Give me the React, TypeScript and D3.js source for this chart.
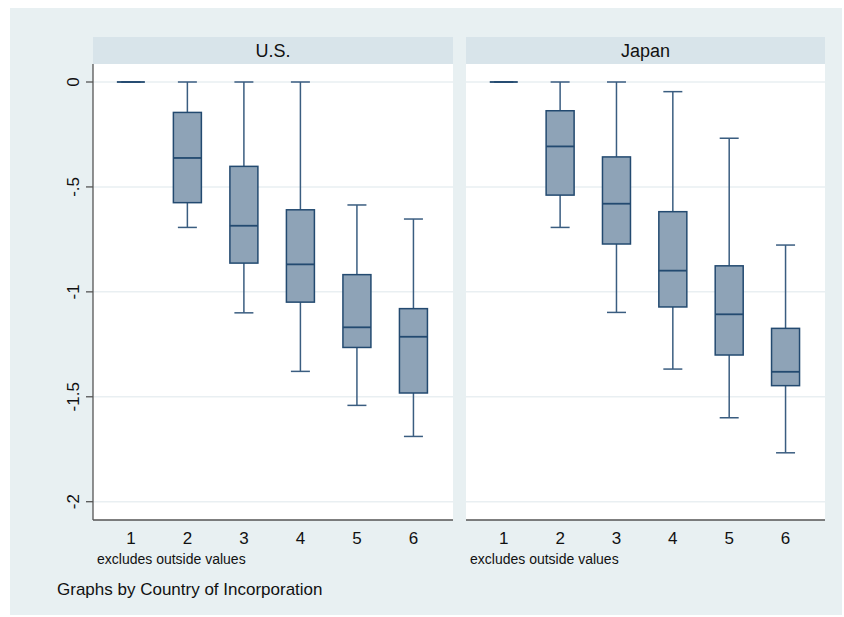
import * as React from "react";
import * as d3 from "d3";

const CATEGORIES = [1, 2, 3, 4, 5, 6];
const Y_TICKS = [0, -0.5, -1, -1.5, -2];
const Y_TICK_LABELS = ["0", "-.5", "-1", "-1.5", "-2"];
const PANEL_NAMES = ["U.S.", "Japan"];

// U.S. box stats per category
const US_UPPER = [0, 0, 0, 0, -0.586, -0.653];
const US_Q3 = [0, -0.145, -0.402, -0.609, -0.918, -1.08];
const US_MEDIAN = [0, -0.362, -0.685, -0.869, -1.169, -1.214];
const US_Q1 = [0, -0.575, -0.863, -1.049, -1.265, -1.482];
const US_LOWER = [0, -0.693, -1.1, -1.379, -1.541, -1.689];

// Japan box stats per category
const JP_UPPER = [0, 0, 0, -0.046, -0.268, -0.777];
const JP_Q3 = [0, -0.137, -0.357, -0.618, -0.876, -1.174];
const JP_MEDIAN = [0, -0.307, -0.58, -0.899, -1.107, -1.381];
const JP_Q1 = [0, -0.539, -0.772, -1.072, -1.301, -1.447];
const JP_LOWER = [0, -0.693, -1.098, -1.368, -1.6, -1.767];

const W = 844;
const H = 617;
const PLOT_TOP = 64;
const PLOT_BOTTOM = 520;
const HEADER_TOP = 37;
const PANEL_X = [
  [93, 453],
  [466, 825],
];

const BG = "#e8f0f2";
const HEADER = "#d8e4ea";
const GRID = "#e9eff2";
const BOX_FILL = "#8ea3b7";
const BOX_STROKE = "#234a70";
const WHISKER = "#3a5d80";
const FONT = "Liberation Sans, Arial, sans-serif";

export default function App() {
  const svgRef = React.useRef<SVGSVGElement>(null);

  React.useEffect(() => {
    const svg = d3.select(svgRef.current).attr("width", W).attr("height", H);
    svg.selectAll("*").remove();

    svg.append("rect").attr("width", W).attr("height", H).attr("fill", "#fff");
    svg
      .append("rect")
      .attr("x", 10)
      .attr("y", 8)
      .attr("width", 832)
      .attr("height", 607)
      .attr("fill", BG);

    const y = d3.scaleLinear().domain([0, -2]).range([82, 501.7]);

    const panels = [
      { lower: US_LOWER, q1: US_Q1, med: US_MEDIAN, q3: US_Q3, upper: US_UPPER },
      { lower: JP_LOWER, q1: JP_Q1, med: JP_MEDIAN, q3: JP_Q3, upper: JP_UPPER },
    ];

    panels.forEach((p, pi) => {
      const [x0, x1] = PANEL_X[pi];
      const x = d3.scaleLinear().domain([0.33, 6.7]).range([x0, x1]);
      const g = svg.append("g");

      // header strip
      g.append("rect")
        .attr("x", x0)
        .attr("y", HEADER_TOP)
        .attr("width", x1 - x0)
        .attr("height", PLOT_TOP - HEADER_TOP)
        .attr("fill", HEADER);
      g.append("text")
        .attr("x", (x0 + x1) / 2)
        .attr("y", HEADER_TOP + 19.5)
        .attr("text-anchor", "middle")
        .attr("font-family", FONT)
        .attr("font-size", 18)
        .attr("fill", "#111")
        .text(PANEL_NAMES[pi]);

      // plot area
      g.append("rect")
        .attr("x", x0)
        .attr("y", PLOT_TOP)
        .attr("width", x1 - x0)
        .attr("height", PLOT_BOTTOM - PLOT_TOP)
        .attr("fill", "#fff");

      g.selectAll(".grid")
        .data(Y_TICKS)
        .join("line")
        .attr("x1", x0)
        .attr("x2", x1)
        .attr("y1", (d) => y(d))
        .attr("y2", (d) => y(d))
        .attr("stroke", GRID)
        .attr("stroke-width", 1.5);

      // x axis
      g.append("line")
        .attr("x1", x0)
        .attr("x2", x1)
        .attr("y1", PLOT_BOTTOM)
        .attr("y2", PLOT_BOTTOM)
        .attr("stroke", "#555")
        .attr("stroke-width", 1.3);

      g.selectAll(".xlab")
        .data(CATEGORIES)
        .join("text")
        .attr("x", (d) => x(d))
        .attr("y", 544)
        .attr("text-anchor", "middle")
        .attr("font-family", FONT)
        .attr("font-size", 17)
        .attr("fill", "#111")
        .text((d) => d);

      g.append("text")
        .attr("x", x0 + 4)
        .attr("y", 564)
        .attr("font-family", FONT)
        .attr("font-size", 14)
        .attr("fill", "#111")
        .text("excludes outside values");

      // y axis only on first panel
      if (pi === 0) {
        g.append("line")
          .attr("x1", x0)
          .attr("x2", x0)
          .attr("y1", PLOT_TOP)
          .attr("y2", PLOT_BOTTOM)
          .attr("stroke", "#555")
          .attr("stroke-width", 1.3);
        g.selectAll(".ytick")
          .data(Y_TICKS)
          .join("line")
          .attr("x1", x0 - 7)
          .attr("x2", x0)
          .attr("y1", (d) => y(d))
          .attr("y2", (d) => y(d))
          .attr("stroke", "#555")
          .attr("stroke-width", 1.3);
        g.selectAll(".ylab")
          .data(Y_TICKS)
          .join("text")
          .attr("transform", (d) => `translate(78.5,${y(d)}) rotate(-90)`)
          .attr("text-anchor", "middle")
          .attr("font-family", FONT)
          .attr("font-size", 17)
          .attr("fill", "#111")
          .text((d, i) => Y_TICK_LABELS[i]);
      }

      const boxW = 28;
      const capW = 19;
      CATEGORIES.forEach((c, i) => {
        const cx = x(c);
        const bg = g.append("g");
        // whiskers
        bg.append("line")
          .attr("x1", cx)
          .attr("x2", cx)
          .attr("y1", y(p.upper[i]))
          .attr("y2", y(p.q3[i]))
          .attr("stroke", WHISKER)
          .attr("stroke-width", 1.5);
        bg.append("line")
          .attr("x1", cx)
          .attr("x2", cx)
          .attr("y1", y(p.q1[i]))
          .attr("y2", y(p.lower[i]))
          .attr("stroke", WHISKER)
          .attr("stroke-width", 1.5);
        [p.upper[i], p.lower[i]].forEach((v) => {
          bg.append("line")
            .attr("x1", cx - capW / 2)
            .attr("x2", cx + capW / 2)
            .attr("y1", y(v))
            .attr("y2", y(v))
            .attr("stroke", WHISKER)
            .attr("stroke-width", 1.5);
        });
        // box
        bg.append("rect")
          .attr("x", cx - boxW / 2)
          .attr("y", y(p.q3[i]))
          .attr("width", boxW)
          .attr("height", Math.max(0, y(p.q1[i]) - y(p.q3[i])))
          .attr("fill", BOX_FILL)
          .attr("stroke", BOX_STROKE)
          .attr("stroke-width", 1.5);
        bg.append("line")
          .attr("x1", cx - boxW / 2)
          .attr("x2", cx + boxW / 2)
          .attr("y1", y(p.med[i]))
          .attr("y2", y(p.med[i]))
          .attr("stroke", BOX_STROKE)
          .attr("stroke-width", 1.8);
      });
    });

    svg
      .append("text")
      .attr("x", 57)
      .attr("y", 595)
      .attr("font-family", FONT)
      .attr("font-size", 17)
      .attr("fill", "#111")
      .text("Graphs by Country of Incorporation");
  }, []);

  return (
    <svg
      ref={svgRef}
      style={{ position: "absolute", left: 0, top: 0, display: "block" }}
    />
  );
}
